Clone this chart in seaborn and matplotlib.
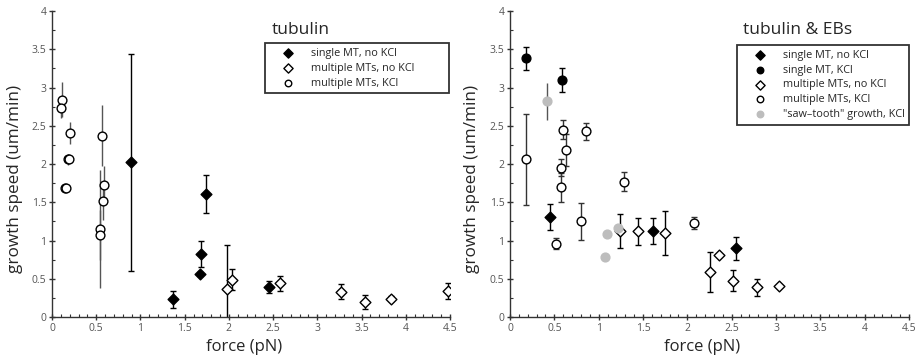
import matplotlib
matplotlib.use("Agg")
import matplotlib.pyplot as plt
import seaborn as sns
import pandas as pd
from matplotlib.ticker import MultipleLocator

# ---------------- data: left panel "tubulin" ----------------
L_single_nokcl_x = [0.897, 1.368, 1.677, 1.69, 1.74, 2.45]
L_single_nokcl_y = [2.02, 0.23, 0.56, 0.82, 1.61, 0.39]
L_single_nokcl_e = [1.42, 0.11, 0.03, 0.17, 0.25, 0.08]

L_multi_nokcl_x = [1.975, 2.04, 2.58, 3.27, 3.54, 3.83, 4.48]
L_multi_nokcl_y = [0.37, 0.49, 0.44, 0.33, 0.20, 0.24, 0.34]
L_multi_nokcl_e = [0.57, 0.14, 0.095, 0.10, 0.09, 0.03, 0.10]

L_multi_kcl_x = [0.113, 0.098, 0.20, 0.185, 0.196, 0.15, 0.16, 0.565, 0.59, 0.577, 0.539, 0.543]
L_multi_kcl_y = [2.84, 2.73, 2.40, 2.06, 2.06, 1.68, 1.69, 2.37, 1.72, 1.51, 1.15, 1.07]
L_multi_kcl_e = [0.23, 0.13, 0.145, 0.07, 0.05, 0.02, 0.02, 0.40, 0.25, 0.24, 0.77, 0.33]

# ---------------- data: right panel "tubulin & EBs" ----------------
R_single_nokcl_x = [0.45, 1.61, 2.55]
R_single_nokcl_y = [1.31, 1.13, 0.90]
R_single_nokcl_e = [0.17, 0.17, 0.15]

R_single_kcl_x = [0.18, 0.59]
R_single_kcl_y = [3.38, 3.10]
R_single_kcl_e = [0.145, 0.16]

R_multi_nokcl_x = [1.24, 1.44, 1.75, 2.25, 2.36, 2.52, 2.79, 3.03]
R_multi_nokcl_y = [1.12, 1.12, 1.10, 0.59, 0.81, 0.475, 0.39, 0.41]
R_multi_nokcl_e = [0.22, 0.18, 0.29, 0.26, 0.0, 0.14, 0.11, 0.0]

R_multi_kcl_x = [0.177, 0.515, 0.594, 0.627, 0.575, 0.575, 0.86, 0.80, 1.29, 2.07]
R_multi_kcl_y = [2.06, 0.96, 2.45, 2.18, 1.95, 1.695, 2.43, 1.25, 1.77, 1.23]
R_multi_kcl_e = [0.60, 0.07, 0.125, 0.21, 0.11, 0.19, 0.11, 0.24, 0.12, 0.075]

R_saw_kcl_x = [0.417, 1.09, 1.075, 1.22]
R_saw_kcl_y = [2.82, 1.08, 0.785, 1.16]
R_saw_kcl_e = [0.24, 0.0, 0.05, 0.0]

LBL_SINGLE_NOKCL = "single MT, no KCl"
LBL_SINGLE_KCL = "single MT, KCl"
LBL_MULTI_NOKCL = "multiple MTs, no KCl"
LBL_MULTI_KCL = "multiple MTs, KCl"
LBL_SAW = "\"saw\u2013tooth\" growth, KCl"

sns.set_style("ticks")
plt.rcParams['font.family'] = ['Open Sans', 'DejaVu Sans']

fig = plt.figure(figsize=(9.17, 3.61), dpi=100)
axL = fig.add_axes([52/917, 1-317/361, 398/917, 306/361])
axR = fig.add_axes([510/917, 1-317/361, 399/917, 306/361])

def series(ax, xs, ys, es, label, marker, face, ecol, capsize, size=38):
    df = pd.DataFrame({"x": xs, "y": ys})
    ax.errorbar(xs, ys, yerr=es, fmt='none', ecolor=ecol, elinewidth=1.0,
                capsize=capsize, capthick=1.0, zorder=2)
    sns.scatterplot(data=df, x="x", y="y", ax=ax, marker=marker, s=size,
                    color=face, edgecolor='black' if face != '#bdbdbd' else '#bdbdbd',
                    linewidth=1.0, label=label, zorder=3)

series(axL, L_single_nokcl_x, L_single_nokcl_y, L_single_nokcl_e, LBL_SINGLE_NOKCL, 'D', 'black', 'black', 2, 30)
series(axL, L_multi_nokcl_x, L_multi_nokcl_y, L_multi_nokcl_e, LBL_MULTI_NOKCL, 'D', 'white', 'black', 2, 30)
series(axL, L_multi_kcl_x, L_multi_kcl_y, L_multi_kcl_e, LBL_MULTI_KCL, 'o', 'white', '#555555', 0, 40)

series(axR, R_single_nokcl_x, R_single_nokcl_y, R_single_nokcl_e, LBL_SINGLE_NOKCL, 'D', 'black', 'black', 2, 30)
series(axR, R_single_kcl_x, R_single_kcl_y, R_single_kcl_e, LBL_SINGLE_KCL, 'o', 'black', 'black', 2, 40)
series(axR, R_multi_nokcl_x, R_multi_nokcl_y, R_multi_nokcl_e, LBL_MULTI_NOKCL, 'D', 'white', 'black', 2, 30)
series(axR, R_multi_kcl_x, R_multi_kcl_y, R_multi_kcl_e, LBL_MULTI_KCL, 'o', 'white', '#333333', 2, 40)
series(axR, R_saw_kcl_x, R_saw_kcl_y, R_saw_kcl_e, LBL_SAW, 'o', '#bdbdbd', '#555555', 0, 40)

for ax, title, tx, bbox in [
        (axL, "tubulin", 0.553, (0.535, 0.718, 0.462, 0.177)),
        (axR, "tubulin & EBs", 0.584, (0.569, 0.618, 0.431, 0.271))]:
    ax.set_xlim(0, 4.5)
    ax.set_ylim(0, 4)
    ax.xaxis.set_minor_locator(MultipleLocator(0.1))
    ax.yaxis.set_minor_locator(MultipleLocator(0.25))
    ax.set_xticks([0, 0.5, 1, 1.5, 2, 2.5, 3, 3.5, 4, 4.5])
    ax.set_xticklabels(["0", "0.5", "1", "1.5", "2", "2.5", "3", "3.5", "4", "4.5"])
    ax.set_yticks([0, 0.5, 1, 1.5, 2, 2.5, 3, 3.5, 4])
    ax.set_yticklabels(["0", "0.5", "1", "1.5", "2", "2.5", "3", "3.5", "4"])
    ax.tick_params(which='major', direction='inout', length=4, width=1.0,
                   color='#333333', labelsize=7.5, labelcolor='#555555', pad=2)
    ax.tick_params(which='minor', direction='in', length=2, width=0.8, color='#333333')
    for s in ['top', 'right']:
        ax.spines[s].set_visible(False)
    for s in ['left', 'bottom']:
        ax.spines[s].set_color('#333333')
        ax.spines[s].set_linewidth(1.0)
    ax.set_xlabel("force (pN)", fontsize=12)
    ax.xaxis.set_label_coords(0.482, -0.072)
    ax.set_ylabel("growth speed (um/min)", fontsize=12.3)
    ax.yaxis.set_label_coords(-0.074, 0.451)
    ax.text(tx, 0.938, title, transform=ax.transAxes, fontsize=12.5,
            ha='left', va='center')
    leg = ax.legend(loc='upper left', bbox_to_anchor=bbox, mode='expand',
                    frameon=True, fancybox=False, fontsize=7.8,
                    borderpad=0.45, labelspacing=0.35, handletextpad=0.4,
                    handlelength=3.4, borderaxespad=0)
    leg.get_frame().set_edgecolor('black')
    leg.get_frame().set_linewidth(1.3)
    for h in leg.legend_handles:
        try:
            h.set_sizes([22])
        except Exception:
            pass

fig.savefig("out.png", dpi=100)
